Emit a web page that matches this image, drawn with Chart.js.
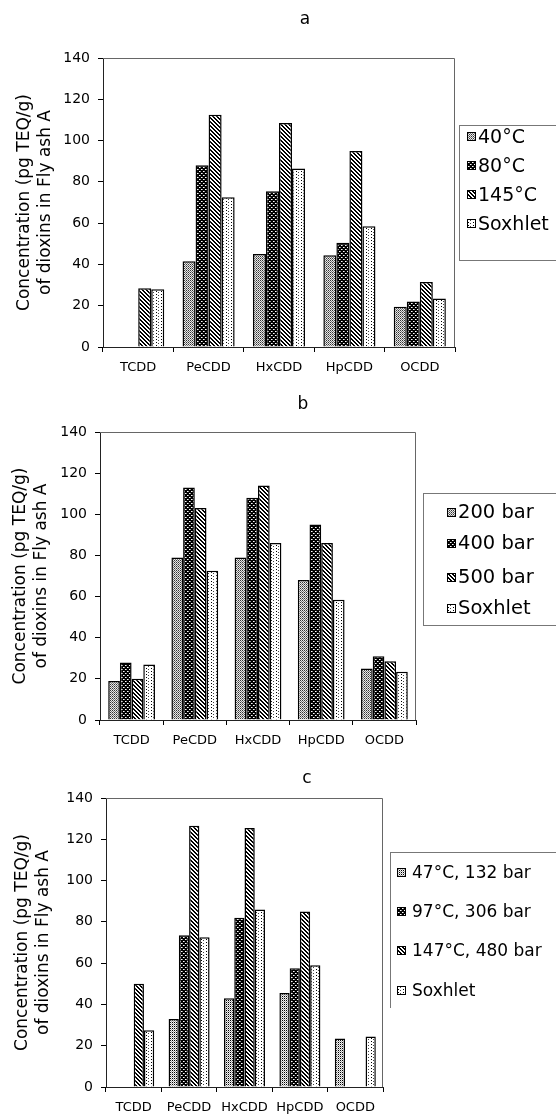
<!DOCTYPE html>
<html lang="en">
  <head>
    <meta charset="UTF-8" />
    <title>Dioxins in Fly ash A</title>
    <script src="https://cdn.jsdelivr.net/npm/chart.js@4.4.1/dist/chart.umd.min.js"></script>
    <style>
      body { margin: 0; background: #fff; font-family: "DejaVu Sans", sans-serif; color: #000; }
      #page { position: relative; width: 556px; height: 1114px; overflow: hidden; }
      canvas.chart { position: absolute; left: 0; }
      .title { position: absolute; font-size: 17px; transform: translate(-50%, -50%); }
      .legend { position: absolute; width: 200px; border: 1px solid #777; }
      .swatch { position: absolute; }
      .label { position: absolute; white-space: nowrap; line-height: 24px; }
    </style>
  </head>
  <body>
    <div id="page"></div>
    <script>
      // categories shared by the three panels
      const categories = ["TCDD", "PeCDD", "HxCDD", "HpCDD", "OCDD"];
      const yTitle = ["Concentration (pg TEQ/g)", "of dioxins in Fly ash A"];

      // panel a: temperature
      const namesA = ["40°C", "80°C", "145°C", "Soxhlet"];
      const a40 = [null, 41.5, 45, 44.5, 19.5];
      const a80 = [null, 88, 75.5, 50.5, 22];
      const a145 = [28.5, 112.5, 108.5, 95, 31.5];
      const aSox = [28, 72.5, 86.5, 58.5, 23.5];

      // panel b: pressure
      const namesB = ["200 bar", "400 bar", "500 bar", "Soxhlet"];
      const b200 = [19, 79, 79, 68, 25];
      const b400 = [28, 113, 108, 95, 31];
      const b500 = [20, 103, 114, 86, 28.5];
      const bSox = [27, 72.5, 86, 58.5, 23.5];

      // panel c: temperature + pressure
      const namesC = ["47°C, 132 bar", "97°C, 306 bar", "147°C, 480 bar", "Soxhlet"];
      const c47 = [null, 33, 43, 45.5, 23.5];
      const c97 = [null, 73.5, 82, 57.5, null];
      const c147 = [50, 126.5, 125.5, 85, null];
      const cSox = [27.5, 72.5, 86, 59, 24.5];

      Chart.defaults.font.family = "DejaVu Sans";
      Chart.defaults.color = "#000";

      const page = document.getElementById("page");
      const W = 556;

      // small pixel tiles for the black & white fills
      function tile(w, h, bg, dots) {
        const t = document.createElement("canvas");
        t.width = w;
        t.height = h;
        const g = t.getContext("2d");
        g.fillStyle = bg;
        g.fillRect(0, 0, w, h);
        dots.forEach(([x, y, c]) => {
          g.fillStyle = c || "#000";
          g.fillRect(x, y, 1, 1);
        });
        return t;
      }
      function diagTile() {
        const d = [];
        for (let y = 0; y < 4; y++) for (let x = 0; x < 4; x++) if ((((x - y) % 4) + 4) % 4 < 2) d.push([x, y]);
        return tile(4, 4, "#fff", d);
      }
      const tiles = {
        gray: tile(2, 2, "#e8e8e8", [[0, 0, "#333"], [1, 1, "#777"]]),
        dark: tile(4, 4, "#000", [[1, 1, "#fff"], [3, 3, "#fff"], [2, 1, "#999"], [0, 3, "#999"]]),
        diag: diagTile(),
        sox: tile(5, 3, "#fff", [[1, 0], [3, 1, "#444"]]),
        light: tile(2, 2, "#f2f2f2", [[0, 0], [1, 1, "#aaa"]]),
      };
      const pctx = document.createElement("canvas").getContext("2d");
      const fill = (k) => pctx.createPattern(tiles[k], "repeat");

      // thin gray frame on top and right of the plot area
      const frame = {
        id: "frame",
        beforeDatasetsDraw(chart) {
          const { ctx, chartArea: a } = chart;
          ctx.save();
          ctx.strokeStyle = "#666";
          ctx.lineWidth = 1;
          ctx.beginPath();
          ctx.moveTo(a.left, a.top + 0.5);
          ctx.lineTo(a.right - 0.5, a.top + 0.5);
          ctx.lineTo(a.right - 0.5, a.bottom);
          ctx.stroke();
          ctx.restore();
        },
      };

      function panel(p) {
        const cv = document.createElement("canvas");
        cv.className = "chart";
        cv.width = W;
        cv.height = p.height;
        cv.style.top = p.top + "px";
        page.appendChild(cv);

        const t = document.createElement("div");
        t.className = "title";
        t.textContent = p.title;
        t.style.left = p.titleX + "px";
        t.style.top = p.titleY + "px";
        page.appendChild(t);

        new Chart(cv, {
          type: "bar",
          data: {
            labels: categories,
            datasets: p.series.map((s, i) => ({
              label: p.names[i],
              data: s,
              backgroundColor: fill(p.fills[i]),
              borderColor: "#000",
              borderWidth: 1.5,
              categoryPercentage: 0.74,
              barPercentage: 1,
            })),
          },
          options: {
            responsive: false,
            animation: false,
            devicePixelRatio: 1,
            layout: { padding: { left: 0, right: W - p.right, top: p.plotTop, bottom: 0 } },
            plugins: { legend: { display: false }, tooltip: { enabled: false } },
            scales: {
              x: {
                grid: { drawOnChartArea: false, tickLength: 5, color: "#000", offset: true },
                border: { color: "#222" },
                ticks: { font: { size: 13 }, padding: 8, maxRotation: 0, autoSkip: false },
                afterFit: (s) => { s.height = p.height - p.plotBottom; },
              },
              y: {
                min: 0,
                max: 140,
                ticks: { stepSize: 20, font: { size: 14 }, padding: 8 },
                grid: { drawOnChartArea: false, tickLength: 5, color: "#000" },
                border: { color: "#222" },
                title: {
                  display: true,
                  text: yTitle,
                  font: { size: 17, lineHeight: 1.2 },
                  padding: { top: p.titlePad, bottom: 0 },
                },
                afterFit: (s) => { s.width = p.left; },
              },
            },
          },
          plugins: [frame],
        });

        // legend box like the original, drawn as html
        const lg = document.createElement("div");
        lg.className = "legend";
        lg.style.left = p.legend.left + "px";
        lg.style.top = p.legend.top + "px";
        lg.style.height = p.legend.height + "px";
        if (p.legend.noBottom) lg.style.borderBottom = "none";
        page.appendChild(lg);
        p.names.forEach((n, i) => {
          const cy = p.legend.items[i];
          const sw = document.createElement("canvas");
          sw.className = "swatch";
          sw.width = 9;
          sw.height = 9;
          sw.style.left = p.legend.swatchX + "px";
          sw.style.top = Math.round(cy - 4.5) + "px";
          const g = sw.getContext("2d");
          g.fillStyle = g.createPattern(tiles[p.fills[i]], "repeat");
          g.fillRect(0, 0, 9, 9);
          g.strokeStyle = "#000";
          g.strokeRect(0.5, 0.5, 8, 8);
          page.appendChild(sw);
          const lb = document.createElement("div");
          lb.className = "label";
          lb.textContent = n;
          lb.style.fontSize = p.legend.font + "px";
          lb.style.left = p.legend.textX + "px";
          lb.style.top = Math.round(cy - 12) + "px";
          page.appendChild(lb);
        });
      }

      panel({
        title: "a", titleX: 305, titleY: 18,
        top: 0, height: 380, left: 103, right: 455, plotTop: 58, plotBottom: 347, titlePad: 14.8,
        names: namesA, series: [a40, a80, a145, aSox], fills: ["gray", "dark", "diag", "sox"],
        legend: { left: 459, top: 125, height: 134, swatchX: 467, textX: 478, font: 19, items: [136, 165, 194, 223] },
      });
      panel({
        title: "b", titleX: 303, titleY: 403,
        top: 380, height: 370, left: 100, right: 416, plotTop: 52, plotBottom: 340, titlePad: 10.8,
        names: namesB, series: [b200, b400, b500, bSox], fills: ["gray", "dark", "diag", "sox"],
        legend: { left: 423, top: 493, height: 131, swatchX: 447, textX: 458, font: 19.5, items: [512, 543, 577, 608] },
      });
      panel({
        title: "c", titleX: 307, titleY: 777,
        top: 750, height: 364, left: 106, right: 383, plotTop: 48, plotBottom: 337, titlePad: 12.8,
        names: namesC, series: [c47, c97, c147, cSox], fills: ["light", "dark", "diag", "sox"],
        legend: { left: 390, top: 852, height: 155, noBottom: true, swatchX: 397, textX: 412, font: 17, items: [872, 911, 950, 990] },
      });
    </script>
  </body>
</html>
